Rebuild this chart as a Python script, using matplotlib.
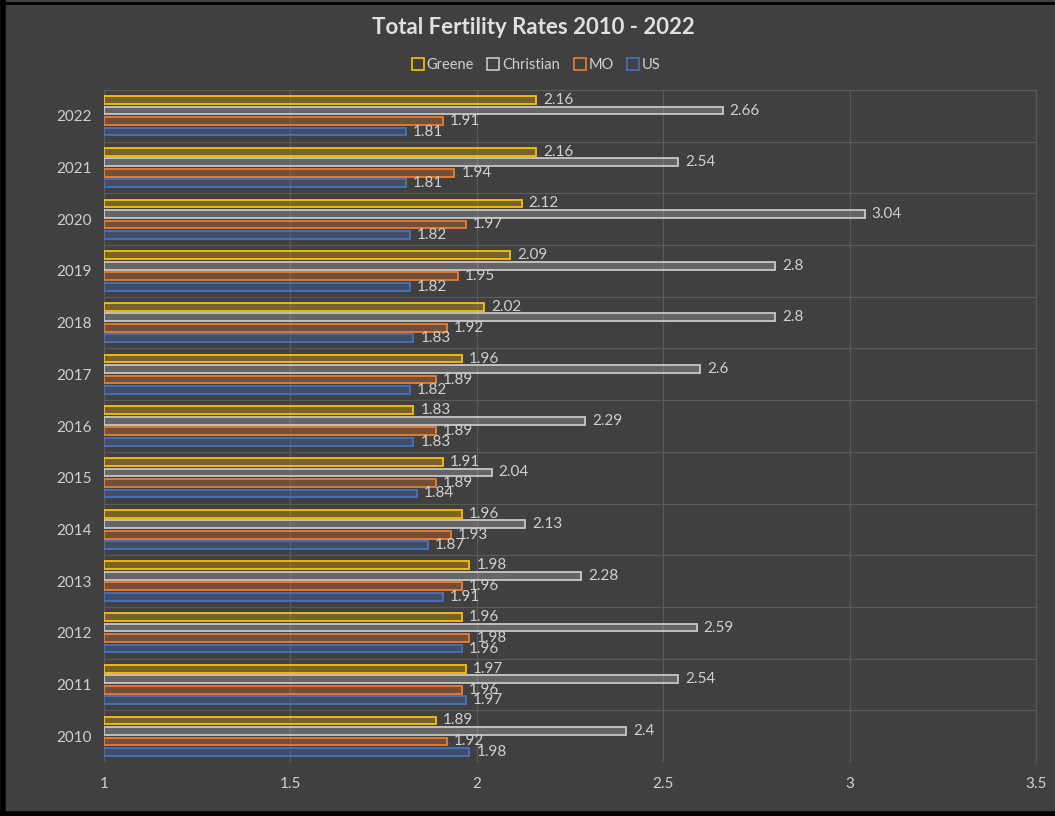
import numpy as np
import matplotlib.pyplot as plt
from matplotlib.lines import Line2D
from matplotlib.colors import to_rgba

years = ['2022', '2021', '2020', '2019', '2018', '2017', '2016',
         '2015', '2014', '2013', '2012', '2011', '2010']
greene = [2.16, 2.16, 2.12, 2.09, 2.02, 1.96, 1.83, 1.91, 1.96, 1.98, 1.96, 1.97, 1.89]
christian = [2.66, 2.54, 3.04, 2.8, 2.8, 2.6, 2.29, 2.04, 2.13, 2.28, 2.59, 2.54, 2.4]
mo = [1.91, 1.94, 1.97, 1.95, 1.92, 1.89, 1.89, 1.89, 1.93, 1.96, 1.98, 1.96, 1.92]
us = [1.81, 1.81, 1.82, 1.82, 1.83, 1.82, 1.83, 1.84, 1.87, 1.91, 1.96, 1.97, 1.98]

series = [('Greene', greene, '#FFC000'),
          ('Christian', christian, '#C8C8C8'),
          ('MO', mo, '#ED7D31'),
          ('US', us, '#4472C4')]

plt.rcParams['font.family'] = ['Lato', 'DejaVu Sans']
bg = '#404040'
txt = '#D0D0D0'

fig = plt.figure(figsize=(10.55, 8.16), dpi=100, facecolor=bg)
ax = fig.add_axes([104 / 1055, 1 - 762 / 816, 932 / 1055, 672 / 816])
ax.set_facecolor(bg)

# categories top to bottom
pos = np.arange(len(years))[::-1].astype(float)
step = 0.203
h = 0.15
for i, (name, vals, col) in enumerate(series):
    y = pos + (1.5 - i) * step
    v = np.array(vals)
    bars = ax.barh(y, v - 1, left=1, height=h, facecolor=to_rgba(col, 0.28),
                   edgecolor=col, linewidth=1.3, zorder=3)
    ax.bar_label(bars, labels=[f'{x:g}' for x in v], padding=5,
                 color=txt, fontsize=11, zorder=4)

ax.set_xlim(1, 3.5)
ax.set_ylim(-0.5, len(years) - 0.5)
ax.set_xticks([1, 1.5, 2, 2.5, 3, 3.5])
ax.set_xticklabels(['1', '1.5', '2', '2.5', '3', '3.5'])
ax.set_yticks(pos)
ax.set_yticklabels(years)
ax.set_yticks(np.arange(len(years) + 1) - 0.5, minor=True)
ax.tick_params(axis='both', which='both', length=0, colors=txt, labelsize=11)
ax.tick_params(axis='x', pad=11)
ax.tick_params(axis='y', pad=9)
ax.grid(axis='x', color='#5A5A5A', linewidth=0.9, zorder=0)
ax.grid(axis='y', which='minor', color='#5A5A5A', linewidth=0.9, zorder=0)
ax.grid(axis='y', which='major', visible=False)
for s in ['left', 'bottom']:
    ax.spines[s].set_visible(False)
for s in ['top', 'right']:
    ax.spines[s].set_color('#5A5A5A')
    ax.spines[s].set_linewidth(0.9)

fig.text(533 / 1055, 1 - 28 / 816, 'Total Fertility Rates 2010 - 2022',
         ha='center', va='center', fontsize=16, fontweight='bold', color='#E0E0E0')

handles = [Line2D([], [], marker='s', linestyle='none', markersize=9,
                  markerfacecolor='none', markeredgecolor=c, markeredgewidth=1.2)
           for _, _, c in series]
fig.legend(handles, [n for n, _, _ in series], loc='center',
           bbox_to_anchor=(536 / 1055, 1 - 65 / 816), ncol=4, frameon=False,
           fontsize=10.5, labelcolor=txt, handletextpad=0.15, columnspacing=0.9,
           handlelength=0.9)

# black frame of the original picture
fig.add_artist(Line2D([3 / 1055, 3 / 1055], [0, 1], color='black', lw=4, transform=fig.transFigure))
fig.add_artist(Line2D([0, 1], [2 / 816, 2 / 816], color='black', lw=4, transform=fig.transFigure))
fig.add_artist(Line2D([0, 1], [1 - 3 / 816, 1 - 3 / 816], color='black', lw=2, transform=fig.transFigure))

fig.savefig('out.png', dpi=100, facecolor=bg)
